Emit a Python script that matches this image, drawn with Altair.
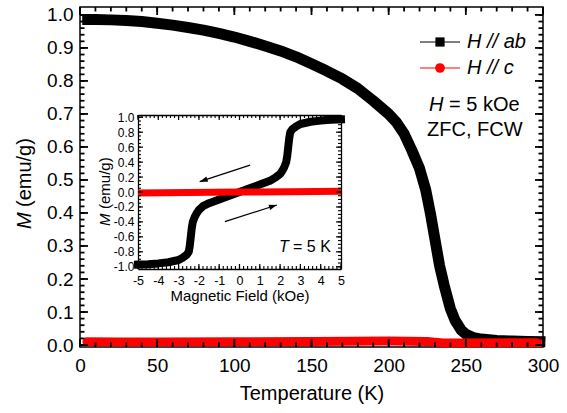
import math
import altair as alt
import pandas as pd

FONT = "Liberation Sans"

# ---------------- data ----------------
T_ab = [5, 10, 20, 30, 40, 50, 60, 70, 80, 90, 100, 110, 120, 130, 140, 150, 160, 170,
        180, 190, 200, 205, 210, 215, 220, 224, 227, 230, 233, 236, 240, 243, 247, 250,
        255, 260, 270, 280, 290, 298]
M_ab = [0.986, 0.986, 0.985, 0.983, 0.980, 0.975, 0.969, 0.962, 0.954, 0.944, 0.933,
        0.920, 0.906, 0.891, 0.873, 0.852, 0.830, 0.806, 0.777, 0.740, 0.700, 0.675,
        0.640, 0.590, 0.535, 0.470, 0.400, 0.320, 0.240, 0.180, 0.110, 0.075, 0.045,
        0.033, 0.022, 0.018, 0.014, 0.012, 0.011, 0.010]

T_c = [4.5, 25, 50, 100, 150, 200, 225, 235, 250, 298]
M_c = [0.010, 0.009, 0.009, 0.010, 0.011, 0.012, 0.011, 0.006, 0.006, 0.007]

H_loop = [-5, -4.5, -4, -3.5, -3, -2.8, -2.6, -2.5, -2.45, -2.4, -2.35, -2.3, -2.2, -2.1,
          -2.0, -1.8, -1.5, -1.2, -1.0, -0.5, 0, 0.5, 1.0, 1.5, 1.8, 2.0, 2.1, 2.2, 2.3,
          2.35, 2.4, 2.45, 2.5, 2.6, 2.8, 3.0, 3.5, 4.0, 4.5, 5.0]
M_loop = [-0.97, -0.965, -0.955, -0.94, -0.91, -0.88, -0.84, -0.80, -0.72, -0.60, -0.48,
          -0.40, -0.33, -0.28, -0.24, -0.19, -0.15, -0.12, -0.10, -0.05, 0.0, 0.05, 0.10,
          0.15, 0.20, 0.24, 0.28, 0.33, 0.40, 0.48, 0.60, 0.72, 0.80, 0.84, 0.88, 0.91,
          0.94, 0.955, 0.965, 0.97]

H_c_inset = [-5, -2.5, 0, 2.5, 5]
M_c_inset = [-0.013, -0.007, -0.001, 0.005, 0.011]

# arrows in the inset (tail -> head), in data units
arrow_tail_H = [0.52, -0.72]
arrow_tail_M = [0.36, -0.397]
arrow_head_H = [-1.96, 1.84]
arrow_head_M = [0.138, -0.174]

# tick values / labels
x_major = [0, 50, 100, 150, 200, 250, 300]
x_minor = list(range(0, 301, 10))
y_major = [0.0, 0.1, 0.2, 0.3, 0.4, 0.5, 0.6, 0.7, 0.8, 0.9, 1.0]
y_minor = [round(i * 0.02, 2) for i in range(51)]
ix_major = [-5, -4, -3, -2, -1, 0, 1, 2, 3, 4, 5]
ix_minor = [round(-5 + 0.2 * i, 1) for i in range(51)]
iy_major = [-1.0, -0.8, -0.6, -0.4, -0.2, 0.0, 0.2, 0.4, 0.6, 0.8, 1.0]
iy_minor = [round(-1 + 0.05 * i, 2) for i in range(41)]

# ---------------- layout ----------------
W, H = 463, 340
IX0, IX1 = 58, 261      # inset x range (px in plot area)
IY0, IY1 = 108, 262     # inset top / bottom (px)

xs = alt.Scale(domain=[0, 300], nice=False, zero=False)
ys = alt.Scale(domain=[-0.006, 1.024], nice=False, zero=False)
ixs = alt.Scale(domain=[-5, 5], range=[IX0, IX1], nice=False, zero=False)
iys = alt.Scale(domain=[-1.03, 1.03], range=[IY1, IY0], nice=False, zero=False)

MINUS_FIX = "replace(datum.label, '\u2212', '-')"


def domain_axis(orient, offset):
    return alt.Axis(orient=orient, offset=offset, labels=False, ticks=False,
                    domain=True, domainColor="black", domainWidth=1.3, grid=False,
                    title=None)


def inv(df, xscale, yscale, xaxis=None, yaxis=None):
    return alt.Chart(df).mark_point(opacity=0).encode(
        x=alt.X("x:Q", scale=xscale, axis=xaxis),
        y=alt.Y("y:Q", scale=yscale, axis=yaxis),
    )


def xticks(values, scale, y_from, y_to, width=1.8):
    return alt.Chart(pd.DataFrame({"v": values})).mark_rule(
        color="black", strokeWidth=width).encode(
        x=alt.X("v:Q", scale=scale, axis=None),
        y=alt.value(y_from), y2=alt.value(y_to))


def yticks(values, scale, x_from, x_to, width=1.8):
    return alt.Chart(pd.DataFrame({"v": values})).mark_rule(
        color="black", strokeWidth=width).encode(
        y=alt.Y("v:Q", scale=scale, axis=None),
        x=alt.value(x_from), x2=alt.value(x_to))


one = pd.DataFrame({"a": [0]})


def label(text, x, y, size, italic=False, align="left", angle=0, baseline="middle"):
    return alt.Chart(one).mark_text(
        text=text, font=FONT, fontSize=size,
        fontStyle="italic" if italic else "normal",
        align=align, baseline=baseline, angle=angle, color="black",
    ).encode(x=alt.value(x), y=alt.value(y))


ins_dom = pd.DataFrame({"x": [-5, 5], "y": [-1, 1]})

layers = []

# ---------------- main data ----------------
x_lab_axis = alt.Axis(orient="bottom", values=x_major, format="d", labelFont=FONT,
                      labelFontSize=19, labelColor="black", ticks=False, tickSize=0,
                      domain=False, grid=False, labelPadding=9, labelFlush=False,
                      labelOverlap=False, title="Temperature (K)", titleFont=FONT,
                      titleFontSize=20, titleFontWeight="normal", titleColor="black",
                      titlePadding=8)
y_lab_axis = alt.Axis(orient="left", values=y_major, format=".1f", labelFont=FONT,
                      labelFontSize=19, labelColor="black", ticks=False, tickSize=0,
                      domain=False, grid=False, labelPadding=7, labelFlush=False,
                      labelOverlap=False, title=None)

df_ab = pd.DataFrame({"T": T_ab, "M": M_ab})
df_c = pd.DataFrame({"T": T_c, "M": M_c})

layers.append(alt.Chart(df_ab).mark_line(color="black", strokeWidth=11, strokeCap="square",
                                         strokeJoin="round").encode(
    x=alt.X("T:Q", scale=xs, axis=x_lab_axis),
    y=alt.Y("M:Q", scale=ys, axis=y_lab_axis)))
layers.append(alt.Chart(df_c).mark_line(color="#ff0000", strokeWidth=9, strokeCap="round",
                                        strokeJoin="round").encode(
    x=alt.X("T:Q", scale=xs, axis=None),
    y=alt.Y("M:Q", scale=ys, axis=None)))

# ---------------- inset ----------------
off_b = -(H - IY1)
off_t = -IY0
off_l = -IX0
off_r = -(W - IX1)

ix_lab_axis = alt.Axis(orient="bottom", offset=off_b, values=ix_major, format="d",
                       labelExpr=MINUS_FIX, labelFont=FONT, labelFontSize=12.5,
                       labelColor="black", ticks=False, tickSize=0, domain=True,
                       domainColor="black", domainWidth=1.3, grid=False, labelPadding=5,
                       labelFlush=False, labelOverlap=False, title="Magnetic Field (kOe)",
                       titleFont=FONT, titleFontSize=15, titleFontWeight="normal",
                       titleColor="black", titlePadding=2)
iy_lab_axis = alt.Axis(orient="left", offset=off_l, values=iy_major, format=".1f",
                       labelExpr=MINUS_FIX, labelFont=FONT, labelFontSize=12,
                       labelColor="black", ticks=False, tickSize=0, domain=True,
                       domainColor="black", domainWidth=1.3, grid=False, labelPadding=4,
                       labelFlush=False, labelOverlap=False, title=None)

df_loop = pd.DataFrame({"Hf": H_loop, "M": M_loop})
df_ci = pd.DataFrame({"Hf": H_c_inset, "M": M_c_inset})

layers.append(alt.Chart(df_loop).mark_line(color="black", strokeWidth=8, strokeCap="square",
                                           strokeJoin="round").encode(
    x=alt.X("Hf:Q", scale=ixs, axis=ix_lab_axis),
    y=alt.Y("M:Q", scale=iys, axis=iy_lab_axis)))
layers.append(alt.Chart(df_ci).mark_line(color="#ff0000", strokeWidth=7, strokeCap="butt").encode(
    x=alt.X("Hf:Q", scale=ixs, axis=None),
    y=alt.Y("M:Q", scale=iys, axis=None)))

# inset frame (top / right)
layers.append(inv(ins_dom, ixs, iys, xaxis=domain_axis("top", off_t)))
layers.append(inv(ins_dom, ixs, iys, yaxis=domain_axis("right", off_r)))

# arrows
px_x = (IX1 - IX0) / 10.0
px_y = (IY1 - IY0) / 2.06
arrow_rows = []
head_rows = []
for i in range(len(arrow_tail_H)):
    arrow_rows.append({"id": i, "Hf": arrow_tail_H[i], "M": arrow_tail_M[i]})
    arrow_rows.append({"id": i, "Hf": arrow_head_H[i], "M": arrow_head_M[i]})
    dx = (arrow_head_H[i] - arrow_tail_H[i]) * px_x
    dy = -(arrow_head_M[i] - arrow_tail_M[i]) * px_y
    ang = math.degrees(math.atan2(dx, -dy)) % 360
    head_rows.append({"Hf": arrow_head_H[i], "M": arrow_head_M[i], "ang": ang})

layers.append(alt.Chart(pd.DataFrame(arrow_rows)).mark_line(color="black", strokeWidth=1.2).encode(
    x=alt.X("Hf:Q", scale=ixs, axis=None),
    y=alt.Y("M:Q", scale=iys, axis=None),
    detail="id:N"))
layers.append(alt.Chart(pd.DataFrame(head_rows)).mark_point(
    shape="M0,0L-0.45,1.3L0.45,1.3Z", filled=True, fill="black", size=150, strokeWidth=0,
    opacity=1).encode(
    x=alt.X("Hf:Q", scale=ixs, axis=None),
    y=alt.Y("M:Q", scale=iys, axis=None),
    angle=alt.Angle("ang:Q", scale=None)))

# ---------------- ticks (inward), drawn on top ----------------
layers.append(xticks(x_minor, xs, H, H - 4.5))
layers.append(xticks(x_major, xs, H, H - 8))
layers.append(xticks(x_minor, xs, 0, 4.5))
layers.append(xticks(x_major, xs, 0, 8))
layers.append(yticks(y_minor, ys, 0, 4.5))
layers.append(yticks(y_major, ys, 0, 8))
layers.append(yticks(y_minor, ys, W, W - 4.5))
layers.append(yticks(y_major, ys, W, W - 8))

layers.append(xticks(ix_minor, ixs, IY1, IY1 - 3, 1.1))
layers.append(xticks(ix_major, ixs, IY1, IY1 - 5, 1.2))
layers.append(xticks(ix_minor, ixs, IY0, IY0 + 3, 1.1))
layers.append(xticks(ix_major, ixs, IY0, IY0 + 5, 1.2))
layers.append(yticks(iy_minor, iys, IX0, IX0 + 3, 1.1))
layers.append(yticks(iy_major, iys, IX0, IX0 + 5, 1.2))
layers.append(yticks(iy_minor, iys, IX1, IX1 - 3, 1.1))
layers.append(yticks(iy_major, iys, IX1, IX1 - 5, 1.2))

# ---------------- texts ----------------
# main y title (italic M)
layers.append(label("M", -55, 222, 20, italic=True, angle=270))
layers.append(label("(emu/g)", -55, 200, 20, angle=270))
# inset y title
layers.append(label("M", 25, 219, 15, italic=True, angle=270))
layers.append(label("(emu/g)", 25, 202, 15, angle=270))
# inset annotation
layers.append(label("T", 199, 240, 16, italic=True))
layers.append(label("= 5 K", 213, 240, 16))

# legend
layers.append(alt.Chart(one).mark_rule(color="black", strokeWidth=1.2).encode(
    x=alt.value(340), x2=alt.value(380), y=alt.value(35)))
layers.append(alt.Chart(one).mark_point(shape="square", filled=True, color="black", size=85,
                                        opacity=1).encode(x=alt.value(360), y=alt.value(35)))
layers.append(label("H // ab", 387, 35, 20, italic=True))
layers.append(alt.Chart(one).mark_rule(color="#ff0000", strokeWidth=1.2).encode(
    x=alt.value(340), x2=alt.value(380), y=alt.value(61)))
layers.append(alt.Chart(one).mark_point(shape="circle", filled=True, color="#ff0000", size=95,
                                        opacity=1).encode(x=alt.value(360), y=alt.value(61)))
layers.append(label("H // c", 387, 61, 20, italic=True))
layers.append(label("H", 349, 98, 20, italic=True))
layers.append(label("= 5 kOe", 369, 98, 20))
layers.append(label("ZFC, FCW", 347, 123, 20))

chart = (
    alt.layer(*layers)
    .resolve_scale(x="independent", y="independent")
    .resolve_axis(x="independent", y="independent")
    .properties(width=W, height=H, autosize=alt.AutoSizeParams(type="none"),
                padding={"left": 80, "top": 7, "right": 24, "bottom": 66},
                background="white")
    .configure_view(stroke="black", strokeWidth=1.5)
)

chart.save("out.html", embed_options={"renderer": "svg", "actions": False})
